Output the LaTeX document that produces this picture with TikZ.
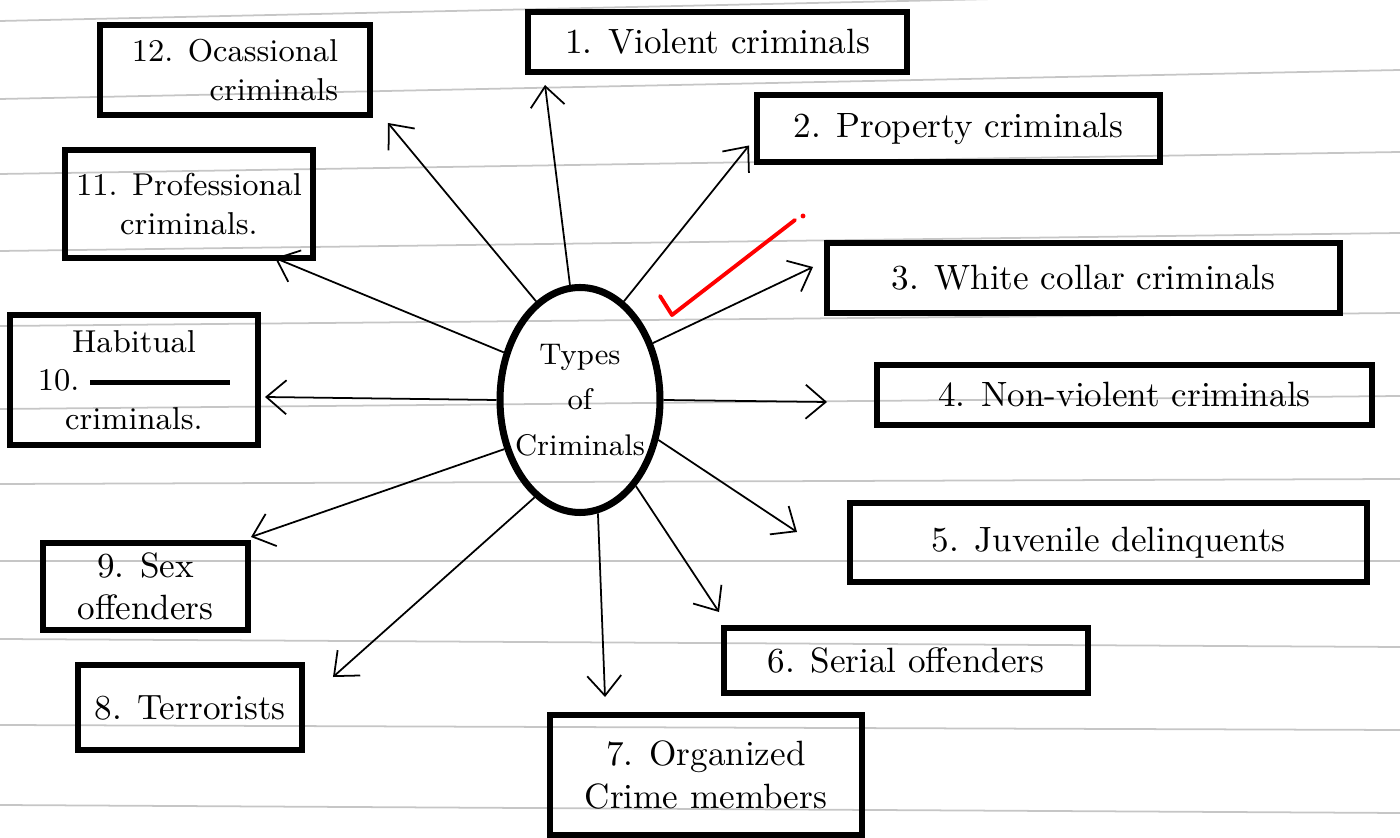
\documentclass[tikz,border=0pt]{standalone}
\usepackage{tikz}
\usetikzlibrary{arrows.meta,shapes.geometric}

\begin{document}
\begin{tikzpicture}[
	crim/.style={draw, line width=1.7pt, inner sep=2pt, align=center, font=\normalsize},
	arr/.style={-{Straight Barb[length=2mm,width=3.4mm]}, line width=0.5pt},
	ruled/.style={gray!45, line width=0.5pt},
	tick/.style={red, line width=1.1pt, line join=round, line cap=round}]
	\useasboundingbox (0,0) rectangle (14,-8.38);
	
	% ruled page
	\begin{scope}
		\clip (0,0) rectangle (14,-8.38);
		\foreach \yl/\yr in {-0.21/0.10, -0.99/-0.70, -1.74/-1.52, -2.51/-2.33, -3.26/-3.13, -4.09/-3.96, -4.84/-4.79, -5.61/-5.61, -6.39/-6.47, -7.25/-7.30, -8.05/-8.13}
			\draw[ruled] (0,\yl) -- (14,\yr);
	\end{scope}
	
	\node[ellipse, draw, line width=2pt, minimum width=1.6cm, minimum height=2.25cm, inner xsep=-2.5mm, inner ysep=0pt, align=center, font=\fontsize{8.5}{13}\selectfont] (types) at (5.80,-4.00) {Types\\of\\Criminals};
	
	\node[crim, minimum width=3.79cm, minimum height=0.60cm] (c1) at (7.175,-0.42) {1. Violent criminals};
	\node[crim, minimum width=4.03cm, minimum height=0.67cm] (c2) at (9.585,-1.285) {2. Property criminals};
	\node[crim, minimum width=5.13cm, minimum height=0.70cm] (c3) at (10.835,-2.78) {3. White collar criminals};
	\node[crim, minimum width=4.95cm, minimum height=0.60cm] (c4) at (11.245,-3.95) {4. Non-violent criminals};
	\node[crim, minimum width=5.17cm, minimum height=0.79cm] (c5) at (11.085,-5.425) {5. Juvenile delinquents};
	\node[crim, minimum width=3.64cm, minimum height=0.65cm] (c6) at (9.06,-6.605) {6. Serial offenders};
	\node[crim, minimum width=3.12cm, minimum height=1.20cm] (c7) at (7.06,-7.75) {7. Organized\\Crime members};
	\node[crim, minimum width=2.24cm, minimum height=0.85cm] (c8) at (1.90,-7.075) {8. Terrorists};
	\node[crim, minimum width=2.05cm, minimum height=0.87cm] (c9) at (1.455,-5.865) {9. Sex\\offenders};
	\node[crim, minimum width=2.48cm, minimum height=1.30cm, font=\small] (c10) at (1.34,-3.80) {Habitual\\10.\ \rule[0.4ex]{14mm}{1.6pt}\\criminals.};
	\node[crim, minimum width=2.48cm, minimum height=1.08cm, font=\small] (c11) at (1.89,-2.04) {11. Professional\\criminals.};
	\node[crim, minimum width=2.70cm, minimum height=0.90cm, align=right, font=\small] (c12) at (2.35,-0.70) {12. Ocassional\\criminals};
	
	\draw[arr] (types.95) -- ([xshift=2mm,yshift=-1mm]c1.south west);
	\draw[arr] (types.66) -- ([xshift=-0.5mm,yshift=-1.7mm]c2.west);
	\draw[arr] (types.38) -- ([xshift=-1.1mm,yshift=1.1mm]c3.west);
	\draw[arr] (types.east) -- ([xshift=-4.7mm,yshift=-0.7mm]c4.west);
	\draw[arr] (types.-27) -- ([xshift=-5mm,yshift=-3.2mm]c5.north west);
	\draw[arr] (types.-57) -- ([xshift=-0.2mm,yshift=1.3mm]c6.north west);
	\draw[arr] (types.-81) -- ([xshift=5.8mm,yshift=1.5mm]c7.north west);
	\draw[arr] (types.245) -- ([xshift=2.8mm,yshift=-1.5mm]c8.north east);
	\draw[arr] (types.213) -- ([yshift=0.3mm]c9.north east);
	\draw[arr] (types.west) -- ([xshift=0.4mm,yshift=-1.7mm]c10.east);
	\draw[arr] (types.148) -- ([xshift=-4.1mm,yshift=0.3mm]c11.south east);
	\draw[arr] (types.114) -- ([xshift=1.5mm,yshift=-0.5mm]c12.south east);
	
	% red tick
	\draw[tick] (6.60,-2.96) -- (6.72,-3.15) -- (7.95,-2.20);
	\fill[red] (8.03,-2.16) circle (0.7pt);
\end{tikzpicture}
\end{document}
